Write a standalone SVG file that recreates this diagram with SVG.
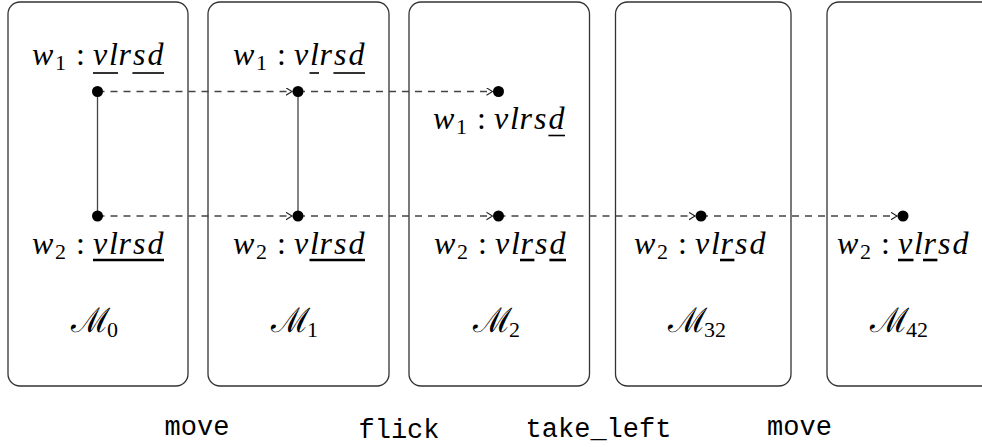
<svg xmlns="http://www.w3.org/2000/svg" width="982" height="447" viewBox="0 0 982 447">
<style>
.box{fill:#fff;stroke:#333;stroke-width:1.3}
.m{font-style:italic;font-size:32px;fill:#000}
.n{font-size:32px;fill:#000}
.s{font-size:22px;fill:#000}
.cal{font-size:34px;fill:#000;letter-spacing:-3px}
.tt{font-size:27px;fill:#000;text-anchor:middle}
.u1{stroke:#000;stroke-width:1.6}
.u2{stroke:#000;stroke-width:2.6}
.dash{stroke:#444;stroke-width:1.3;stroke-dasharray:7 6;fill:none;marker-end:url(#tip)}
.solid{stroke:#444;stroke-width:1.3;fill:none}
.dot{fill:#000}
</style>
<defs>
<marker id="tip" markerUnits="userSpaceOnUse" markerWidth="9" markerHeight="10" refX="6.5" refY="4" orient="auto">
<path d="M0.5,0.3 L6.5,4 L0.5,7.7" fill="none" stroke="#222" stroke-width="1.1"/>
</marker>
</defs>

<g font-family="Liberation Serif, serif">
<g id="M0">
<rect class="box" x="8" y="2" width="180" height="384" rx="12"/>
<text class="m" x="32" y="65">w</text><text class="s" x="55" y="70">1</text><text class="n" x="76" y="65">:</text>
<text class="m" x="93 109 118.5 133 147.5" y="65">vlrsd</text>
<line class="u1" x1="93" y1="73" x2="118" y2="73"/><line class="u1" x1="132.4" y1="73" x2="164" y2="73"/>
<text class="m" x="32" y="254">w</text><text class="s" x="55" y="259">2</text><text class="n" x="76" y="254">:</text>
<text class="m" x="93 109 118.5 133 147.5" y="254">vlrsd</text>
<line class="u2" x1="93" y1="260" x2="164" y2="260"/>
<text x="71" y="332"><tspan class="cal" font-family="DejaVu Serif, serif">ℳ</tspan><tspan class="s" dy="5">0</tspan></text>
</g>

<g id="M1">
<rect class="box" x="208" y="2" width="181" height="384" rx="12"/>
<text class="m" x="233" y="65">w</text><text class="s" x="256" y="70">1</text><text class="n" x="277" y="65">:</text>
<text class="m" x="294 310 319.5 334 348.5" y="65">vlrsd</text>
<line class="u1" x1="309.5" y1="73" x2="319" y2="73"/><line class="u1" x1="333.4" y1="73" x2="365" y2="73"/>
<text class="m" x="233" y="254">w</text><text class="s" x="256" y="259">2</text><text class="n" x="277" y="254">:</text>
<text class="m" x="294 310 319.5 334 348.5" y="254">vlrsd</text>
<line class="u2" x1="309.5" y1="260" x2="365" y2="260"/>
<text x="271" y="332"><tspan class="cal" font-family="DejaVu Serif, serif">ℳ</tspan><tspan class="s" dy="5">1</tspan></text>
</g>

<g id="M2">
<rect class="box" x="409" y="2" width="180.5" height="384" rx="12"/>
<text class="m" x="433" y="129">w</text><text class="s" x="456" y="134">1</text><text class="n" x="477" y="129">:</text>
<text class="m" x="494 510 519.5 534 548.5" y="129">vlrsd</text>
<line class="u1" x1="548.4" y1="135.5" x2="565" y2="135.5"/>
<text class="m" x="434" y="254">w</text><text class="s" x="457" y="259">2</text><text class="n" x="478" y="254">:</text>
<text class="m" x="495 511 520.5 535 549.5" y="254">vlrsd</text>
<line class="u2" x1="520" y1="260" x2="534.4" y2="260"/><line class="u2" x1="549.4" y1="260" x2="566" y2="260"/>
<text x="473" y="332"><tspan class="cal" font-family="DejaVu Serif, serif">ℳ</tspan><tspan class="s" dy="5">2</tspan></text>
</g>

<g id="M32">
<rect class="box" x="615.5" y="2" width="175.5" height="384" rx="12"/>
<text class="m" x="634" y="254">w</text><text class="s" x="657" y="259">2</text><text class="n" x="678" y="254">:</text>
<text class="m" x="695 711 720.5 735 749.5" y="254">vlrsd</text>
<line class="u2" x1="720" y1="260" x2="734.4" y2="260"/>
<text x="668" y="332"><tspan class="cal" font-family="DejaVu Serif, serif">ℳ</tspan><tspan class="s" dy="5">32</tspan></text>
</g>

<g id="M42">
<rect class="box" x="827" y="2" width="180" height="384" rx="12"/>
<text class="m" x="837" y="254">w</text><text class="s" x="860" y="259">2</text><text class="n" x="881" y="254">:</text>
<text class="m" x="898 914 923.5 938 952.5" y="254">vlrsd</text>
<line class="u2" x1="898" y1="260" x2="913.5" y2="260"/><line class="u2" x1="923" y1="260" x2="937.4" y2="260"/>
<text x="870" y="332"><tspan class="cal" font-family="DejaVu Serif, serif">ℳ</tspan><tspan class="s" dy="5">42</tspan></text>
</g>
</g>

<g id="connectors">
<line class="solid" x1="97.5" y1="91.5" x2="97.5" y2="216"/>
<line class="solid" x1="298" y1="91.5" x2="298" y2="216"/>
<line class="dash" x1="97.5" y1="91.5" x2="292" y2="91.5"/>
<line class="dash" x1="298" y1="91.5" x2="492.5" y2="91.5"/>
<line class="dash" x1="97.5" y1="216" x2="292" y2="216"/>
<line class="dash" x1="298" y1="216" x2="492.5" y2="216"/>
<line class="dash" x1="498.5" y1="216" x2="695" y2="216"/>
<line class="dash" x1="701" y1="216" x2="897" y2="216"/>
</g>

<g id="points">
<circle class="dot" cx="97.5" cy="91.5" r="5.5"/>
<circle class="dot" cx="298" cy="91.5" r="5.5"/>
<circle class="dot" cx="498.5" cy="91.5" r="5.5"/>
<circle class="dot" cx="97.5" cy="216" r="5.5"/>
<circle class="dot" cx="298" cy="216" r="5.5"/>
<circle class="dot" cx="498.5" cy="216" r="5.5"/>
<circle class="dot" cx="701" cy="216" r="5.5"/>
<circle class="dot" cx="903" cy="216" r="5.5"/>
</g>

<g id="actions" font-family="Liberation Mono, monospace">
<text class="tt" x="197" y="435">move</text>
<text class="tt" x="399" y="438">flick</text>
<text class="tt" x="598.5" y="437">take_left</text>
<text class="tt" x="799.5" y="435">move</text>
</g>
</svg>
